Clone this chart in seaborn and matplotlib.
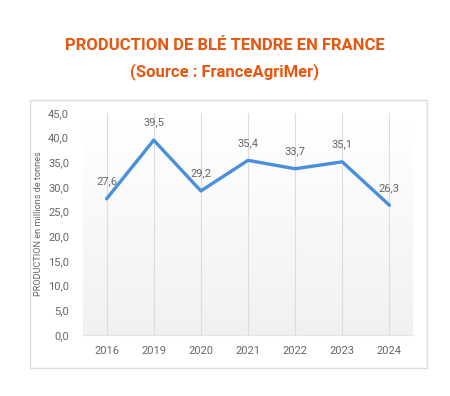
import matplotlib
matplotlib.use("Agg")
import matplotlib.pyplot as plt
import numpy as np
import pandas as pd
import seaborn as sns
from matplotlib.ticker import FuncFormatter, MultipleLocator
from matplotlib.patches import Rectangle

# data
years = ["2016", "2019", "2020", "2021", "2022", "2023", "2024"]
production = [27.6, 39.5, 29.2, 35.4, 33.7, 35.1, 26.3]

df = pd.DataFrame({"year": years, "production": production})

sns.set_style("white")
plt.rcParams["font.family"] = ["Roboto", "DejaVu Sans"]

fig = plt.figure(figsize=(4.5, 3.96), dpi=100)
fig.patch.set_facecolor("white")

# outer chart frame
fig.patches.append(Rectangle((30 / 450, 1 - 368 / 396), 397 / 450, 268 / 396,
                             transform=fig.transFigure, fill=False,
                             edgecolor="#dcdcdc", linewidth=1.0))

ax = fig.add_axes([83 / 450, 1 - 335 / 396, 330 / 450, 222 / 396])

# soft gradient background, white on top to light grey at the bottom
t = np.linspace(0, 1, 100).reshape(-1, 1)
top = np.array([1.0, 1.0, 1.0])
bottom = np.array([0.945, 0.945, 0.945])
grad = top + (bottom - top) * t[..., None]
grad = grad.reshape(100, 1, 3)
ax.imshow(grad, extent=(-0.5, 6.5, 0, 43), aspect="auto", zorder=0, origin="upper")

# vertical grid lines
for i in range(len(years)):
    ax.axvline(i, color="#dcdcdc", linewidth=0.8, zorder=1)

sns.lineplot(data=df, x="year", y="production", ax=ax, color="#4a8fdb",
             linewidth=2.4, zorder=3, sort=False)

for i, v in enumerate(production):
    ax.annotate(f"{v:.1f}".replace(".", ","), (i, v), xytext=(0, 9),
                textcoords="offset points", ha="center", va="bottom",
                fontsize=8, color="#666666")

ax.set_xlim(-0.5, 6.5)
ax.set_ylim(0, 45)
ax.yaxis.set_major_locator(MultipleLocator(5))
ax.yaxis.set_major_formatter(FuncFormatter(lambda v, p: f"{v:.1f}".replace(".", ",")))
ax.tick_params(axis="both", length=0, labelsize=8, labelcolor="#666666")
ax.tick_params(axis="y", pad=10)
ax.tick_params(axis="x", pad=8)
for s in ["top", "right", "left"]:
    ax.spines[s].set_visible(False)
ax.spines["bottom"].set_color("#e4e4e4")
ax.set_xlabel("")
ax.set_ylabel("PRODUCTION en millions de tonnes", fontsize=6.6, color="#666666", labelpad=4)

fig.text(0.5, 1 - 46 / 396, "PRODUCTION DE BLÉ TENDRE EN FRANCE", ha="center", va="center",
         fontsize=12, fontweight="bold", color="#e8560f")
fig.text(0.5, 1 - 72 / 396, "(Source : FranceAgriMer)", ha="center", va="center",
         fontsize=12, fontweight="bold", color="#e8560f")

fig.savefig("out.png", dpi=100)
